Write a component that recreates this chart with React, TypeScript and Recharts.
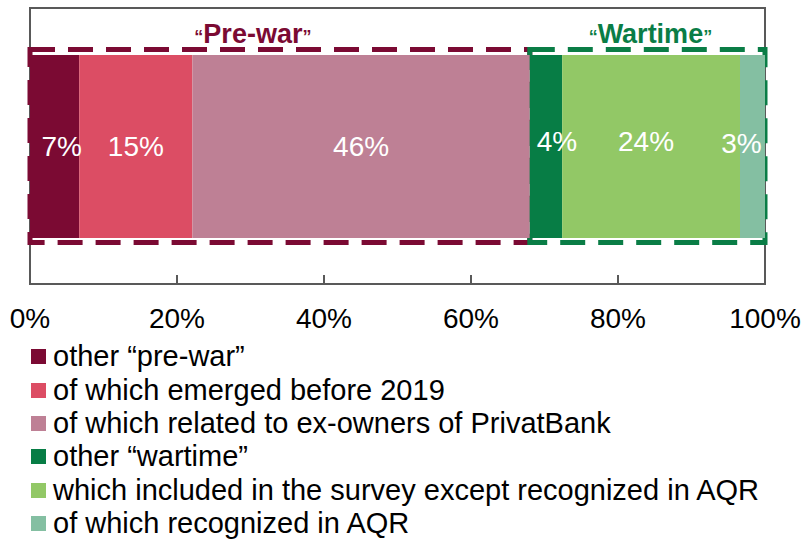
import React from 'react';
import {
  BarChart, Bar, XAxis, YAxis, ReferenceArea, ReferenceLine, LabelList,
} from 'recharts';

// shares of the portfolio, %
const CATEGORY = ['total'];
const SERIES_KEYS = ['otherPreWar', 'before2019', 'privatBank', 'otherWartime', 'survey', 'aqr'];
const SERIES_NAMES = [
  'other “pre-war”',
  'of which emerged before 2019',
  'of which related to ex-owners of PrivatBank',
  'other “wartime”',
  'which included in the survey except recognized in AQR',
  'of which recognized in AQR',
];
const SERIES_VALUES = [6.7, 15.4, 45.9, 4.4, 24.2, 3.4];
const X_TICKS = [0, 20, 40, 60, 80, 100];
const GROUP_TITLES = ['Pre-war', 'Wartime'];
const GROUP_SIZES = [3, 3];

const COLORS = ['#7B0A33', '#DC4D64', '#BE8095', '#077D45', '#92C866', '#84BFA2'];
const LABEL_DX = [7, 0, 0, 11, -5, -11];
const LABEL_DY = [0, 0, 0, -5, -5, -3];
const GROUP_COLORS = ['#7B0A33', '#0A7D46'];
const GROUP_TITLE_DX = [-27, 3];

const FONT = '"Liberation Sans", Arial, sans-serif';
const AXIS = '#595959';
const BAR_SIZE = 183;

const data = CATEGORY.map((name) => {
  const row: Record<string, any> = { name };
  SERIES_KEYS.forEach((k, i) => { row[k] = SERIES_VALUES[i]; });
  return row;
});

// group boundaries from the series values
const groupBounds: [number, number][] = [];
{
  let start = 0;
  let idx = 0;
  GROUP_SIZES.forEach((n) => {
    const sum = SERIES_VALUES.slice(idx, idx + n).reduce((a, b) => a + b, 0);
    groupBounds.push([start, start + sum]);
    start += sum;
    idx += n;
  });
}

function GroupBox(props: any) {
  const { x, y, width, height, color, title, titleDx } = props;
  const boxH = BAR_SIZE + 10;
  const top = y + (height - boxH) / 2;
  return (
    <g>
      <rect
        x={x} y={top} width={width} height={boxH}
        fill="none" stroke={color} strokeWidth={5} strokeDasharray="25 13"
      />
      <text
        x={x + width / 2 + titleDx} y={top - 7} textAnchor="middle"
        fill={color} fontFamily={FONT} fontWeight="bold"
      >
        <tspan fontSize={18}>“</tspan>
        <tspan fontSize={27}>{title}</tspan>
        <tspan fontSize={18}>”</tspan>
      </text>
    </g>
  );
}

function Frame(props: any) {
  const { x, y, width, height } = props;
  return <rect x={x} y={y} width={width} height={height} fill="none" stroke={AXIS} strokeWidth={2} />;
}

// short tick mark pointing up from the bottom of the plot
function InnerTick(props: any) {
  const { x1, y1, y2 } = props;
  const bottom = Math.max(y1, y2);
  return <line x1={x1} x2={x1} y1={bottom} y2={bottom - 9} stroke={AXIS} strokeWidth={2} />;
}

export default function App() {
  return (
    <div style={{ position: 'absolute', left: 0, top: 0, width: 804, height: 541, background: '#fff', fontFamily: FONT }}>
      <BarChart
        width={804} height={541} data={data} layout="vertical"
        margin={{ top: 8, right: 39, left: 30, bottom: 0 }}
      >
        <XAxis
          xAxisId="b" type="number" domain={[0, 100]} ticks={X_TICKS} interval={0}
          height={257} tickSize={0} tickMargin={24}
          tickFormatter={(v) => `${v}%`}
          tick={{ fill: '#000', fontSize: 28, fontFamily: FONT }}
          axisLine={false} tickLine={false}
        />
        <YAxis yAxisId="l" type="category" dataKey="name" width={0} hide />
        {SERIES_KEYS.map((k, i) => (
          <Bar
            key={k} dataKey={k} name={SERIES_NAMES[i]} stackId="a"
            xAxisId="b" yAxisId="l" fill={COLORS[i]} barSize={BAR_SIZE}
            isAnimationActive={false}
          >
            <LabelList
              dataKey={k} position="center" dx={LABEL_DX[i]} dy={LABEL_DY[i]}
              formatter={(v: any) => `${Math.round(Number(v))}%`}
              fill="#fff" fontSize={28} fontFamily={FONT}
            />
          </Bar>
        ))}
        {X_TICKS.slice(1, -1).map((t) => (
          <ReferenceLine
            key={t} xAxisId="b" yAxisId="l" x={t}
            shape={(p: any) => <InnerTick {...p} />}
          />
        ))}
        <ReferenceArea
          xAxisId="b" yAxisId="l" x1={X_TICKS[0]} x2={X_TICKS[X_TICKS.length - 1]}
          ifOverflow="visible" shape={(p: any) => <Frame {...p} />}
        />
        {groupBounds.map(([a, b], i) => (
          <ReferenceArea
            key={GROUP_TITLES[i]} xAxisId="b" yAxisId="l" x1={a} x2={b}
            ifOverflow="visible"
            shape={(p: any) => (
              <GroupBox {...p} color={GROUP_COLORS[i]} title={GROUP_TITLES[i]} titleDx={GROUP_TITLE_DX[i]} />
            )}
          />
        ))}
      </BarChart>
      <div style={{ position: 'absolute', left: 31, top: 340 }}>
        {SERIES_NAMES.map((n, i) => (
          <div key={n} style={{ display: 'flex', alignItems: 'center', height: 33.4, whiteSpace: 'nowrap' }}>
            <span style={{ width: 15, height: 15, background: COLORS[i], marginRight: 7, flex: 'none' }} />
            <span style={{ fontSize: 29, color: '#000', lineHeight: 1 }}>{n}</span>
          </div>
        ))}
      </div>
    </div>
  );
}
